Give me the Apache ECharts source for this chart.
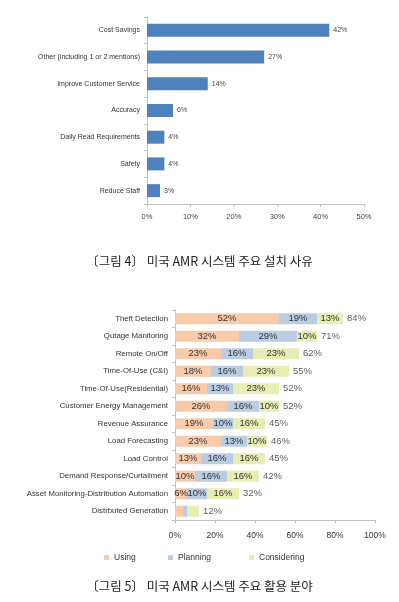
<!DOCTYPE html>
<html><head><meta charset="utf-8">
<script src="https://cdn.jsdelivr.net/npm/echarts@6/dist/echarts.min.js"></script>
<style>html,body{margin:0;padding:0;background:#fff}#c{width:399px;height:602px}</style>
</head><body><div id="c"></div>
<script>
// Figure 4 data
const reasonCats = ['Cost Savings','Other (including 1 or 2 mentions)','Improve Customer Service','Accuracy','Daily Read Requirements','Safety','Reduce Staff'];
const reasonVals = [42,27,14,6,4,4,3];
const xTicks1 = [0,10,20,30,40,50];

// Figure 5 data
const useCats = ['Theft Detection','Qutage Manitoring','Remote On/Off','Time-Of-Use (C&I)','Time-Of-Use(Residential)','Customer Energy Management','Revenue Assurance','Load Forecasting','Load Control','Demand Response/Curtailment','Asset Monitoring-Distribution Automation','Distrbuted Generation'];
const usingVals = [52,32,23,18,16,26,19,23,13,10,6,4];
const planningVals = [19,29,16,16,13,16,10,13,16,16,10,2];
const consideringVals = [13,10,23,23,23,10,16,10,16,16,16,6];
const totalLabels = [84,71,62,55,52,52,45,46,45,42,32,12];
const unlabelledRows = ['Distrbuted Generation'];
const xTicks2 = [0,20,40,60,80,100];

const FONT = 'Liberation Sans';
const chart = echarts.init(document.getElementById('c'), null, {renderer:'canvas'});

const inside = (v, i) => ({show: !unlabelledRows.includes(useCats[i]), position:'inside', formatter:'{c}%', color:'#333', fontSize:9.5, fontFamily:FONT});
function segSeries(name, vals, color){
  return {
    name, type:'bar', stack:'s', xAxisIndex:1, yAxisIndex:1, barWidth:11,
    itemStyle:{color},
    data: vals.map((v,i) => ({value:v, label: inside(v,i)})),
    emphasis:{disabled:true}
  };
}
const sums = useCats.map((_,i)=>usingVals[i]+planningVals[i]+consideringVals[i]);

chart.setOption({
  animation:false,
  textStyle:{fontFamily:FONT},
  title:[
    {text:'〔그림 4〕 미국 AMR 시스템 주요 설치 사유', left:'center', top:250,
     textStyle:{fontFamily:'Noto Sans CJK KR', fontSize:12.5, fontWeight:'normal', color:'#222'}},
    {text:'〔그림 5〕 미국 AMR 시스템 주요 활용 분야', left:'center', top:575,
     textStyle:{fontFamily:'Noto Sans CJK KR', fontSize:12.5, fontWeight:'normal', color:'#222'}}
  ],
  legend:[
    {data:['Using'], left:99, top:548, itemWidth:5, itemHeight:5, itemGap:5, icon:'rect', textStyle:{fontSize:8.5, color:'#333', fontFamily:FONT}},
    {data:['Planning'], left:163, top:548, itemWidth:5, itemHeight:5, icon:'rect', textStyle:{fontSize:8.5, color:'#333', fontFamily:FONT}},
    {data:['Considering'], left:244, top:548, itemWidth:5, itemHeight:5, icon:'rect', textStyle:{fontSize:8.5, color:'#333', fontFamily:FONT}}
  ],
  grid:[
    {left:147, right:35, top:17, height:187},
    {left:175, right:24, top:310, height:210}
  ],
  xAxis:[
    {gridIndex:0, type:'value', min:xTicks1[0], max:xTicks1[xTicks1.length-1], interval:10,
     axisLine:{show:true, lineStyle:{color:'#c0c0c0'}}, axisTick:{show:true, length:3, lineStyle:{color:'#c0c0c0'}},
     splitLine:{show:false}, axisLabel:{formatter:'{value}%', fontSize:7.5, color:'#444', margin:9}},
    {gridIndex:1, type:'value', min:xTicks2[0], max:xTicks2[xTicks2.length-1], interval:20,
     axisLine:{show:true, lineStyle:{color:'#c0c0c0'}}, axisTick:{show:true, length:3, lineStyle:{color:'#c0c0c0'}},
     splitLine:{show:false}, axisLabel:{formatter:'{value}%', fontSize:8.5, color:'#333', margin:11}}
  ],
  yAxis:[
    {gridIndex:0, type:'category', data:reasonCats, inverse:true,
     axisLine:{show:true, lineStyle:{color:'#c0c0c0'}}, axisTick:{show:true, length:3, lineStyle:{color:'#c0c0c0'}},
     axisLabel:{fontSize:7, color:'#333', margin:7}},
    {gridIndex:1, type:'category', data:useCats, inverse:true,
     axisLine:{show:true, lineStyle:{color:'#c0c0c0'}}, axisTick:{show:true, length:3, lineStyle:{color:'#c0c0c0'}},
     axisLabel:{fontSize:7.8, color:'#333', margin:7}}
  ],
  series:[
    {type:'bar', xAxisIndex:0, yAxisIndex:0, data:reasonVals, barWidth:13,
     itemStyle:{color:'#4F81BD'},
     label:{show:true, position:'right', formatter:'{c}%', fontSize:7, color:'#444', distance:4}},
    segSeries('Using', usingVals, '#F9CBAA'),
    segSeries('Planning', planningVals, '#B9CDE5'),
    segSeries('Considering', consideringVals, '#E8EDB4'),
    {type:'scatter', xAxisIndex:1, yAxisIndex:1, symbolSize:0,
     data: sums.map((s,i)=>[s, i]),
     label:{show:true, position:'right', distance:4, fontSize:9.5, color:'#333',
       formatter: p => totalLabels[p.dataIndex] + '%'}}
  ]
});
</script></body></html>
